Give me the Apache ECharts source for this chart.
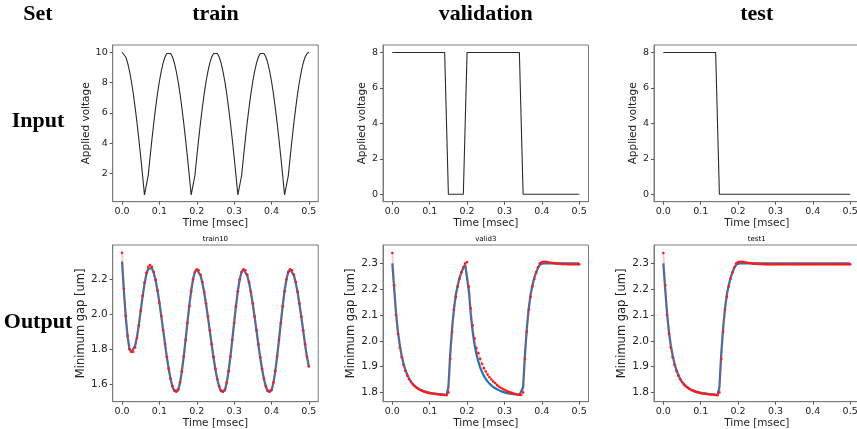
<!DOCTYPE html>
<html><head><meta charset="utf-8">
<script src="https://cdn.jsdelivr.net/npm/echarts@6/dist/echarts.min.js"></script>
<style>html,body{margin:0;padding:0;background:#fff}#c{width:857px;height:429px}</style>
</head><body><div id="c"></div>
<script>
// ---------- data ----------
const times = [0,0.005,0.01,0.015,0.02,0.025,0.03,0.035,0.04,0.045,0.05,0.055,0.06,0.065,0.07,0.075,0.08,0.085,0.09,0.095,
0.1,0.105,0.11,0.115,0.12,0.125,0.13,0.135,0.14,0.145,0.15,0.155,0.16,0.165,0.17,0.175,0.18,0.185,0.19,0.195,
0.2,0.205,0.21,0.215,0.22,0.225,0.23,0.235,0.24,0.245,0.25,0.255,0.26,0.265,0.27,0.275,0.28,0.285,0.29,0.295,
0.3,0.305,0.31,0.315,0.32,0.325,0.33,0.335,0.34,0.345,0.35,0.355,0.36,0.365,0.37,0.375,0.38,0.385,0.39,0.395,
0.4,0.405,0.41,0.415,0.42,0.425,0.43,0.435,0.44,0.445,0.45,0.455,0.46,0.465,0.47,0.475,0.48,0.485,0.49,0.495,0.5];

const trainInput = [
10,9.92,9.69,9.3,8.76,8.09,7.29,6.37,5.36,4.26,3.09,1.87,0.6,0.6,1.87,3.09,4.26,5.36,6.37,7.29,8.09,8.76,9.3,9.69,9.92,
10,9.92,9.69,9.3,8.76,8.09,7.29,6.37,5.36,4.26,3.09,1.87,0.6,0.6,1.87,3.09,4.26,5.36,6.37,7.29,8.09,8.76,9.3,9.69,9.92,
10,9.92,9.69,9.3,8.76,8.09,7.29,6.37,5.36,4.26,3.09,1.87,0.6,0.6,1.87,3.09,4.26,5.36,6.37,7.29,8.09,8.76,9.3,9.69,9.92,
10,9.92,9.69,9.3,8.76,8.09,7.29,6.37,5.36,4.26,3.09,1.87,0.6,0.6,1.87,3.09,4.26,5.36,6.37,7.29,8.09,8.76,9.3,9.69,9.92,
10];

const validInput = [
8,8,8,8,8,8,8,8,8,8,
8,8,8,8,8,8,8,8,8,8,
8,8,8,8,8,8,8,8,8,8,
0,0,0,0,0,0,0,0,0,0,
8,8,8,8,8,8,8,8,8,8,
8,8,8,8,8,8,8,8,8,8,
8,8,8,8,8,8,8,8,8,8,
0,0,0,0,0,0,0,0,0,0,
0,0,0,0,0,0,0,0,0,0,
0,0,0,0,0,0,0,0,0,0,
0];

const testInput = [
8,8,8,8,8,8,8,8,8,8,
8,8,8,8,8,8,8,8,8,8,
8,8,8,8,8,8,8,8,8,8,
0,0,0,0,0,0,0,0,0,0,
0,0,0,0,0,0,0,0,0,0,
0,0,0,0,0,0,0,0,0,0,
0,0,0,0,0,0,0,0,0,0,
0,0,0,0,0,0,0,0,0,0,
0,0,0,0,0,0,0,0,0,0,
0,0,0,0,0,0,0,0,0,0,
0];

const trainTrue = [
2.30,2.13,1.98,1.87,1.80,1.785,1.79,1.82,1.87,1.94,2.02,2.10,2.17,2.225,2.26,2.27,
2.261,2.234,2.191,2.134,2.066,1.990,1.910,1.830,1.754,1.686,1.629,1.586,1.561,1.550,
1.564,1.606,1.672,1.756,1.852,1.953,2.049,2.133,2.199,2.241,2.255,
2.246,2.220,2.178,2.122,2.055,1.981,1.903,1.824,1.750,1.683,1.627,1.585,1.559,1.550,
1.564,1.606,1.672,1.756,1.852,1.953,2.049,2.133,2.199,2.241,2.255,
2.246,2.220,2.178,2.122,2.055,1.981,1.903,1.824,1.750,1.683,1.627,1.585,1.559,1.550,
1.564,1.606,1.672,1.756,1.852,1.953,2.049,2.133,2.199,2.241,2.255,
2.246,2.220,2.178,2.122,2.055,1.981,1.903,1.824,1.755,1.700];

const trainPred = [
2.35,2.145,1.99,1.875,1.80,1.785,1.786,1.81,1.865,1.935,2.02,2.105,2.18,2.235,2.27,2.28,
2.27,2.24,2.195,2.135,2.065,1.99,1.91,1.83,1.755,1.688,1.632,1.59,1.566,1.558,
1.57,1.61,1.675,1.758,1.852,1.95,2.045,2.13,2.197,2.24,2.256,
2.25,2.225,2.183,2.127,2.06,1.986,1.908,1.829,1.755,1.688,1.632,1.59,1.565,1.557,
1.569,1.61,1.675,1.758,1.852,1.95,2.045,2.13,2.197,2.24,2.256,
2.25,2.225,2.183,2.127,2.06,1.986,1.908,1.829,1.755,1.688,1.632,1.59,1.565,1.557,
1.569,1.61,1.675,1.758,1.852,1.95,2.045,2.13,2.197,2.24,2.256,
2.25,2.225,2.183,2.127,2.06,1.986,1.908,1.829,1.757,1.702];

const validTrue = [
2.300,2.200,2.105,2.035,1.982,1.942,1.911,1.887,1.868,1.853,1.841,1.832,1.825,1.819,1.814,1.810,1.807,1.804,1.802,1.800,
1.798,1.797,1.796,1.795,1.794,1.793,1.792,1.792,1.791,1.790,
1.82,1.95,2.05,2.125,2.18,2.215,2.245,2.265,2.283,2.295,
2.297,2.19,2.10,2.035,1.985,1.948,1.92,1.897,1.879,1.864,1.852,1.842,1.834,1.827,1.821,1.816,1.812,1.808,1.805,1.802,
1.80,1.798,1.796,1.795,1.794,1.793,1.792,1.791,1.790,1.789,
1.82,1.95,2.05,2.125,2.18,2.215,2.245,2.265,2.283,2.295,2.299,
2.30,2.30,2.30,2.30,2.30,2.30,2.30,2.30,2.30,2.30,2.30,2.30,2.30,2.30,2.30,2.30,2.30,2.30,2.30,2.30];

const validPred = [
2.34,2.215,2.10,2.026,1.974,1.936,1.906,1.883,1.865,1.851,1.840,1.831,1.824,1.818,1.813,1.809,1.806,1.803,1.801,1.799,
1.797,1.796,1.795,1.794,1.793,1.792,1.791,1.791,1.790,1.789,
1.80,1.93,2.035,2.12,2.17,2.21,2.24,2.265,2.285,2.30,
2.305,2.21,2.125,2.06,2.01,1.972,1.952,1.93,1.911,1.894,1.881,1.869,1.859,1.85,1.842,1.836,1.829,1.823,1.818,1.814,
1.81,1.806,1.803,1.80,1.798,1.796,1.794,1.792,1.791,1.790,
1.80,1.93,2.035,2.12,2.17,2.21,2.24,2.265,2.285,2.30,2.305,
2.306,2.306,2.305,2.303,2.302,2.301,2.300,2.299,2.298,2.298,2.297,2.297,2.297,2.296,2.296,2.296,2.296,2.296,2.296,2.296];

const testTrue = [
2.300,2.200,2.105,2.035,1.982,1.942,1.911,1.887,1.868,1.853,1.841,1.832,1.825,1.819,1.814,1.810,1.807,1.804,1.802,1.800,
1.798,1.797,1.796,1.795,1.794,1.793,1.792,1.792,1.791,1.790,
1.82,1.95,2.05,2.125,2.18,2.215,2.245,2.265,2.283,2.295,2.299,
2.30,2.30,2.30,2.30,2.30,2.30,2.30,2.30,2.30,2.30,2.30,2.30,2.30,2.30,2.30,2.30,2.30,2.30,2.30,2.30,
2.30,2.30,2.30,2.30,2.30,2.30,2.30,2.30,2.30,2.30,2.30,2.30,2.30,2.30,2.30,2.30,2.30,2.30,2.30,2.30,
2.30,2.30,2.30,2.30,2.30,2.30,2.30,2.30,2.30,2.30,2.30,2.30,2.30,2.30,2.30,2.30,2.30,2.30,2.30,2.30];

const testPred = [
2.34,2.215,2.10,2.026,1.974,1.936,1.906,1.883,1.865,1.851,1.840,1.831,1.824,1.818,1.813,1.809,1.806,1.803,1.801,1.799,
1.797,1.796,1.795,1.794,1.793,1.792,1.791,1.791,1.790,1.789,
1.80,1.93,2.035,2.12,2.17,2.21,2.24,2.265,2.285,2.30,2.305,
2.306,2.306,2.305,2.303,2.302,2.301,2.300,2.299,2.298,2.298,2.297,2.297,2.297,2.296,2.296,2.296,2.296,2.296,2.296,2.296,
2.296,2.296,2.296,2.296,2.296,2.296,2.296,2.296,2.296,2.296,2.296,2.296,2.296,2.296,2.296,2.296,2.296,2.296,2.296,2.296,
2.296,2.296,2.296,2.296,2.296,2.296,2.296,2.296,2.296,2.296,2.296,2.296,2.296,2.296,2.296,2.296,2.296,2.296,2.296,2.296];

const xTicks = [0, 0.1, 0.2, 0.3, 0.4, 0.5];
const trainInTicks = [2, 4, 6, 8, 10];
const stepInTicks = [0, 2, 4, 6, 8];
const trainGapTicks = [1.6, 1.8, 2.0, 2.2];
const stepGapTicks = [1.8, 1.9, 2.0, 2.1, 2.2, 2.3];

const colTitles = ['train', 'validation', 'test'];
const rowTitles = ['Input', 'Output'];
const panelTitles = ['train10', 'valid3', 'test1'];

// ---------- layout ----------
const colLeft = [112.7, 383, 654];
const colW = 205.5;
const rowTop = [45, 245];
const rowH = 156.7;
const FONT = 'DejaVu Sans';
const SERIF = 'Liberation Serif';

const panels = [
  {r:0,c:0, ymin:0.15, ymax:10.48, ticks:trainInTicks, dec:0, name:'Applied voltage', gap:17, ylab:9.5, nameSize:10.5},
  {r:0,c:1, ymin:-0.42, ymax:8.42, ticks:stepInTicks, dec:0, name:'Applied voltage', gap:10.5, ylab:9.5, nameSize:10.5},
  {r:0,c:2, ymin:-0.42, ymax:8.42, ticks:stepInTicks, dec:0, name:'Applied voltage', gap:10.5, ylab:9.5, nameSize:10.5},
  {r:1,c:0, ymin:1.501, ymax:2.394, ticks:trainGapTicks, dec:1, name:'Minimum gap [um]', gap:20, ylab:10.5, nameSize:11.5},
  {r:1,c:1, ymin:1.764, ymax:2.371, ticks:stepGapTicks, dec:1, name:'Minimum gap [um]', gap:19, ylab:10.5, nameSize:11.5},
  {r:1,c:2, ymin:1.764, ymax:2.371, ticks:stepGapTicks, dec:1, name:'Minimum gap [um]', gap:19, ylab:10.5, nameSize:11.5}
];

const grids = [], xAxes = [], yAxes = [];
panels.forEach((p, i) => {
  grids.push({left: colLeft[p.c], top: rowTop[p.r], width: colW, height: rowH,
    show: true, borderColor: '#7a7a7a', borderWidth: 1, backgroundColor: 'transparent',
    containLabel: false, outerBoundsMode: 'none'});
  xAxes.push({type: 'value', gridIndex: i, min: -0.025, max: 0.525,
    name: 'Time [msec]', nameLocation: 'middle', nameGap: 14,
    nameTextStyle: {fontFamily: FONT, fontSize: 10.5, color: '#222'},
    axisLine: {show: true, onZero: false, lineStyle: {color: '#7a7a7a', width: 1}},
    axisTick: {show: true, customValues: xTicks, length: 3, lineStyle: {color: '#555'}},
    axisLabel: {show: true, customValues: xTicks, margin: 5, fontFamily: FONT, fontSize: 9.5, color: '#222',
      formatter: v => v.toFixed(1)},
    splitLine: {show: false}});
  yAxes.push({type: 'value', gridIndex: i, min: p.ymin, max: p.ymax,
    name: p.name, nameLocation: 'middle', nameGap: p.gap,
    nameTextStyle: {fontFamily: FONT, fontSize: p.nameSize, color: '#222'},
    axisLine: {show: true, onZero: false, lineStyle: {color: '#7a7a7a', width: 1}},
    axisTick: {show: true, customValues: p.ticks, length: 3, lineStyle: {color: '#555'}},
    axisLabel: {show: true, customValues: p.ticks, margin: 5, fontFamily: FONT, fontSize: p.ylab, color: '#222',
      formatter: v => v.toFixed(p.dec)},
    splitLine: {show: false}});
});

const pair = arr => times.map((t, i) => [t, arr[i]]);
const inputs = [trainInput, validInput, testInput];
const trues = [trainTrue, validTrue, testTrue];
const preds = [trainPred, validPred, testPred];

const series = [];
inputs.forEach((arr, c) => {
  series.push({type: 'line', xAxisIndex: c, yAxisIndex: c, data: pair(arr), symbol: 'none',
    lineStyle: {color: '#2a2a2a', width: 1.1}, animation: false, silent: true});
});
trues.forEach((arr, c) => {
  series.push({type: 'line', xAxisIndex: 3 + c, yAxisIndex: 3 + c, data: pair(arr), symbol: 'none',
    lineStyle: {color: '#1f77b4', width: 2.2}, animation: false, silent: true, z: 2});
});
preds.forEach((arr, c) => {
  series.push({type: 'line', xAxisIndex: 3 + c, yAxisIndex: 3 + c, data: pair(arr),
    symbol: 'circle', symbolSize: 2.6, showSymbol: true, showAllSymbol: true,
    itemStyle: {color: '#ff1a1a', borderWidth: 0},
    lineStyle: {color: 'rgba(255,60,60,0.3)', width: 1.8}, animation: false, silent: true, z: 3});
});

const graphics = [];
const txt = (x, y, s, size, family, weight) => ({type: 'text', x, y, silent: true,
  style: {text: s, fontSize: size, fontFamily: family, fontWeight: weight, fill: '#000',
    textAlign: 'center', textVerticalAlign: 'middle'}});
graphics.push(txt(38, 14, 'Set', 22, SERIF, 'bold'));
colTitles.forEach((s, c) => graphics.push(txt(colLeft[c] + colW / 2, 14, s, 22, SERIF, 'bold')));
graphics.push(txt(38, 121, rowTitles[0], 22, SERIF, 'bold'));
graphics.push(txt(38, 322, rowTitles[1], 22, SERIF, 'bold'));
panelTitles.forEach((s, c) => graphics.push(txt(colLeft[c] + colW / 2, 239, s, 7, FONT, 'normal')));

const chart = echarts.init(document.getElementById('c'), null, {renderer: 'canvas'});
chart.setOption({
  animation: false,
  backgroundColor: '#fff',
  grid: grids, xAxis: xAxes, yAxis: yAxes, series,
  graphic: graphics
});
</script></body></html>
